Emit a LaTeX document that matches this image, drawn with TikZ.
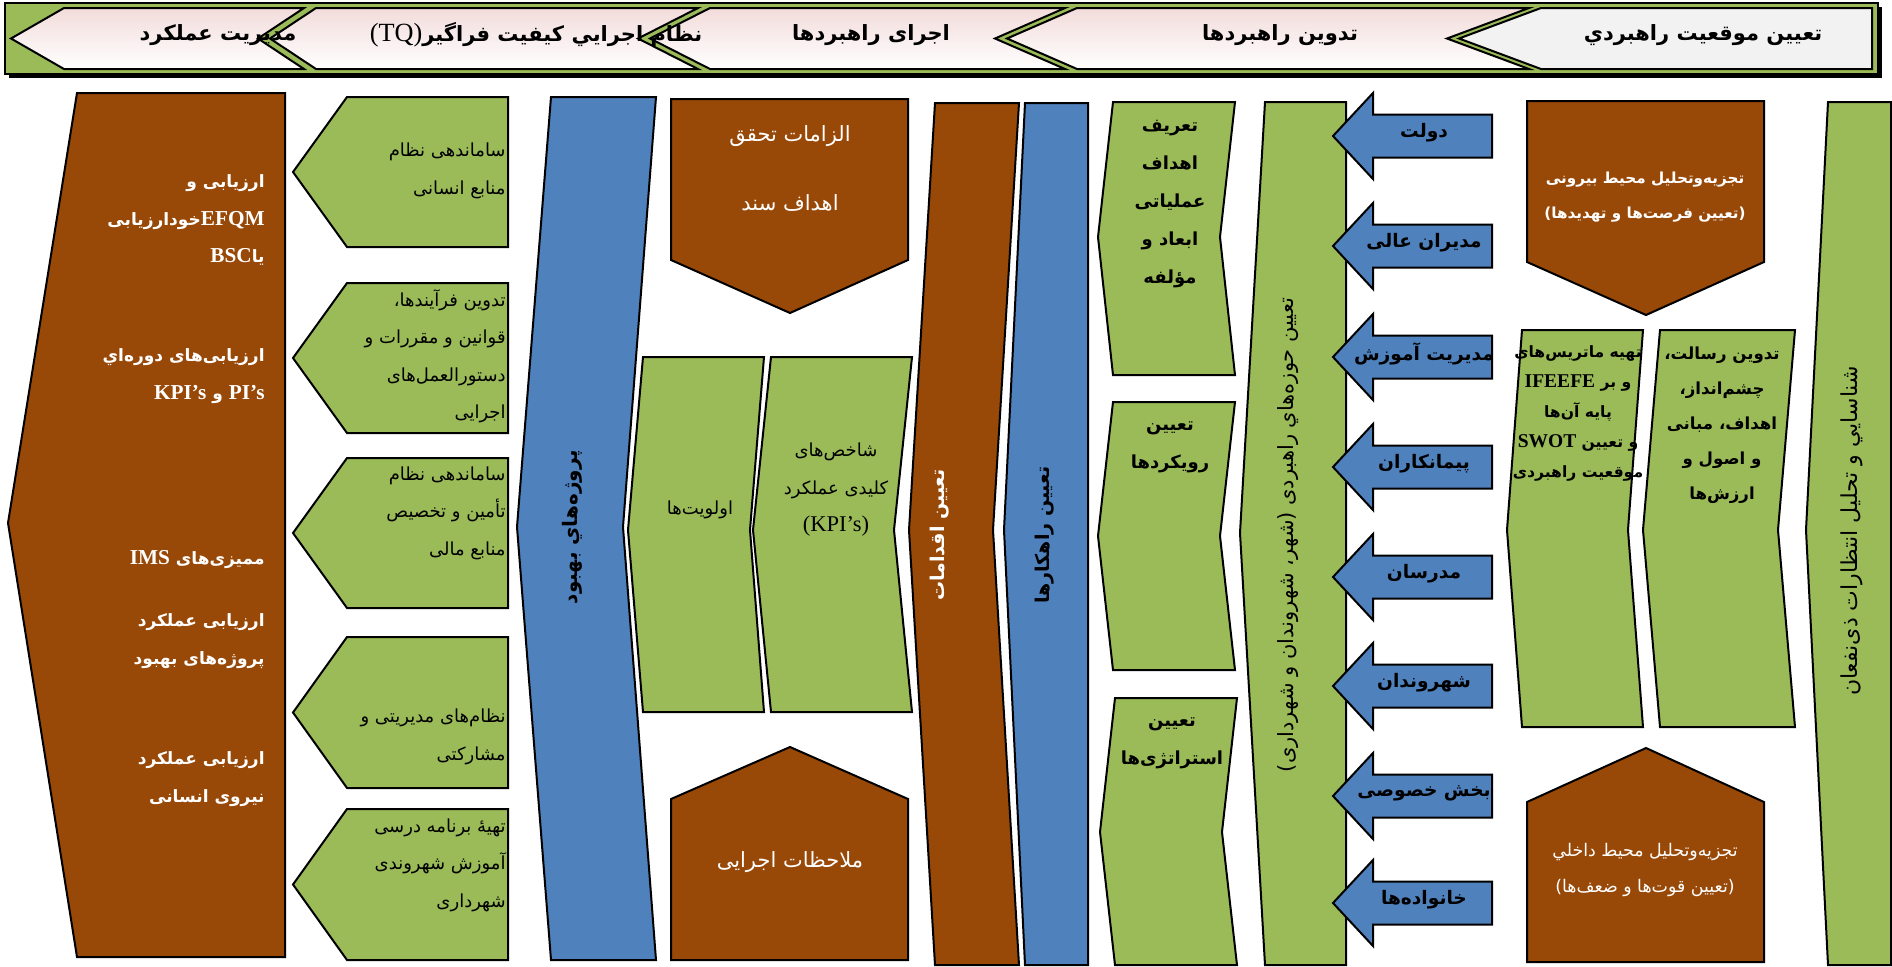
\documentclass[tikz,border=0pt]{standalone}
\usepackage{fontspec}
\setmainfont{Liberation Serif}
\newfontfamily\fafont[Script=Arabic]{DejaVu Sans}
\newfontfamily\enfont[Scale=1.25]{Liberation Serif}
\TeXXeTstate=1
\newcommand{\rl}[1]{\beginR#1\endR}
\newcommand{\zw}{^^^^200c}
\newcommand{\sz}[2]{\fontsize{#1}{#2}\selectfont}
\definecolor{brn}{HTML}{984807}
\definecolor{grn}{HTML}{9BBB59}
\definecolor{blu}{HTML}{4F81BD}
\definecolor{pnk}{HTML}{F2DCDB}
\definecolor{gry}{HTML}{F2F2F2}
\begin{document}
\begin{tikzpicture}[x=0.5pt,y=-0.5pt,line join=miter]
  \tikzstyle{frame}=[draw=black,line width=1pt]
  \tikzstyle{brownshape}=[frame,fill=brn]
  \tikzstyle{greenshape}=[frame,fill=grn]
  \tikzstyle{blueshape}=[frame,fill=blu]
  \tikzstyle{chevron}=[frame,top color=pnk,bottom color=white]
  \tikzstyle{headtext}=[inner sep=0pt,font=\fafont\bfseries\sz{10.5}{13}]
  \tikzstyle{whitetext}=[inner sep=0pt,text=white,font=\fafont\sz{9}{18.75}]
  \tikzstyle{blacktext}=[inner sep=0pt,text=black,font=\fafont\sz{9}{18.75}]
  \useasboundingbox (0,0) rectangle (1892,966);
  % header band
  \fill[black] (9,7) rectangle (1882,78);
  \draw[frame,fill=grn] (5,3) rectangle (1878,74);
  \draw[chevron] (64,8) -- (304,8) -- (258,38.5) -- (304,69) -- (64,69) -- (11,38.5) -- cycle;
  \draw[chevron] (316,8) -- (698,8) -- (638,38.5) -- (698,69) -- (316,69) -- (270,38.5) -- cycle;
  \draw[chevron] (710,8) -- (1065,8) -- (995,38.5) -- (1065,69) -- (710,69) -- (650,38.5) -- cycle;
  \draw[chevron] (1077,8) -- (1529,8) -- (1447,38.5) -- (1529,69) -- (1077,69) -- (1007,38.5) -- cycle;
  \draw[frame,fill=gry] (1541,8) -- (1872,8) -- (1872,69) -- (1541,69) -- (1459,38.5) -- cycle;
  \node[headtext] (h1) at (218,35) {\rl{مدیریت عملکرد}};
  \node[headtext] (h2) at (536,35) {{\enfont\mdseries(TQ)}\rl{نظام اجرايي کیفیت فراگیر}};
  \node[headtext] (h3) at (871,35) {\rl{اجرای راهبردها}};
  \node[headtext] (h4) at (1280,35) {\rl{تدوین راهبردها}};
  \node[headtext] (h5) at (1703,35) {\rl{تعيين موقعيت راهبردي}};
  % performance evaluation
  \draw[brownshape] (77,93) -- (285,93) -- (285,957) -- (77,957) -- (8,523) -- cycle;
  \tikzstyle{evaltext}=[whitetext,anchor=east,align=right,font=\fafont\bfseries\sz{8.5}{18.75}]
  \node[evaltext] (e1) at (265,220) {\rl{ارزیابی و}\\\rl{خودارزیابی}{\enfont EFQM}\\{\enfont BSC}\rl{یا}};
  \node[evaltext] (e2) at (265,376) {\rl{ارزیابی\zw های دوره\zw اي}\\{\enfont KPI’s} \rl{و} {\enfont PI’s}};
  \node[evaltext] (e3) at (265,560) {{\enfont IMS} \rl{ممیزی\zw های}};
  \node[evaltext] (e4) at (265,641) {\rl{ارزیابی عملکرد}\\\rl{پروژه\zw های بهبود}};
  \node[evaltext] (e5) at (265,779) {\rl{ارزیابی عملکرد}\\\rl{نیروی انسانی}};
  % TQ systems
  \foreach \t/\b in {97/247,283/433,458/608,637/788,809/960}
    \draw[greenshape] (347,\t) -- (508,\t) -- (508,\b) -- (347,\b) -- (293,{(\t+\b)/2}) -- cycle;
  \tikzstyle{tqtext}=[blacktext,anchor=east,align=right]
  \node[tqtext] (t1) at (506,171) {\rl{ساماندهی نظام}\\\rl{منابع انسانی}};
  \node[tqtext] (t2) at (506,356) {\rl{تدوین فرآیندها،}\\\rl{قوانین و مقررات و}\\\rl{دستورالعمل\zw های}\\\rl{اجرایی}};
  \node[tqtext] (t3) at (506,513) {\rl{ساماندهی نظام}\\\rl{تأمین و تخصیص}\\\rl{منابع مالی}};
  \node[tqtext] (t4) at (506,737) {\rl{نظام\zw های مدیریتی و}\\\rl{مشارکتی}};
  \node[tqtext] (t5) at (506,865) {\rl{تهیه^^^^0654 برنامه درسی}\\\rl{آموزش شهروندی}\\\rl{شهرداری}};
  % implementation
  \draw[blueshape] (551,97) -- (656,97) -- (623,527) -- (656,960) -- (551,960) -- (517,527) -- cycle;
  \node[blacktext,rotate=90,font=\fafont\bfseries\sz{10}{12}] (proj) at (572,527) {\rl{پروژه\zw هاي بهبود}};
  \draw[brownshape] (671,99) -- (908,99) -- (908,260) -- (790,313) -- (671,260) -- cycle;
  \node[whitetext,align=center,font=\fafont\sz{10.5}{34.5}] (req) at (790,168) {\rl{الزامات تحقق}\\\rl{اهداف سند}};
  \draw[greenshape] (643,357) -- (764,357) -- (750,530) -- (764,712) -- (643,712) -- (628,530) -- cycle;
  \draw[greenshape] (771,357) -- (912,357) -- (894,530) -- (912,712) -- (771,712) -- (753,530) -- cycle;
  \node[blacktext] (prio) at (700,510) {\rl{اولویت\zw ها}};
  \node[blacktext,align=center] (kpi) at (836,490) {\rl{شاخص\zw های}\\\rl{کلیدی عملکرد}\\{\enfont(KPI’s)}};
  \draw[brownshape] (671,960) -- (908,960) -- (908,799) -- (790,747) -- (671,799) -- cycle;
  \node[whitetext,font=\fafont\sz{10.5}{12}] (note) at (790,862) {\rl{ملاحظات اجرایی}};
  \draw[brownshape] (935,103) -- (1019,103) -- (993,530) -- (1019,965) -- (935,965) -- (909,530) -- cycle;
  \node[whitetext,rotate=90,font=\fafont\bfseries\sz{9.5}{11}] (act) at (940,535) {\rl{تعیین اقدامات}};
  \draw[blueshape] (1025,103) -- (1088,103) -- (1088,965) -- (1025,965) -- (1004,530) -- cycle;
  \node[blacktext,rotate=90,font=\fafont\bfseries\sz{9.5}{11}] (sol) at (1045,535) {\rl{تعیین راهکارها}};
  % strategy formulation
  \tikzstyle{boldtext}=[blacktext,align=center,font=\fafont\bfseries\sz{9}{19}]
  \draw[greenshape] (1113,102) -- (1235,102) -- (1220,237) -- (1235,375) -- (1113,375) -- (1098,237) -- cycle;
  \draw[greenshape] (1113,402) -- (1235,402) -- (1220,536) -- (1235,670) -- (1113,670) -- (1098,536) -- cycle;
  \draw[greenshape] (1115,698) -- (1237,698) -- (1222,832) -- (1237,965) -- (1115,965) -- (1100,832) -- cycle;
  \node[boldtext] (goal) at (1170,204) {\rl{تعریف}\\\rl{اهداف}\\\rl{عملیاتی}\\\rl{ابعاد و}\\\rl{مؤلفه}};
  \node[boldtext] (appr) at (1170,447) {\rl{تعیین}\\\rl{رویکردها}};
  \node[boldtext] (strat) at (1172,743) {\rl{تعیین}\\\rl{استراتژی\zw ها}};
  \draw[greenshape] (1265,102) -- (1346,102) -- (1346,965) -- (1265,965) -- (1240,533) -- cycle;
  \node[blacktext,rotate=90,font=\fafont\sz{10.5}{12}] (area) at (1288,535) {\rl{تعیین حوزه\zw هاي راهبردی (شهر، شهروندان و شهرداری)}};
  \foreach \y/\lbl in {136/دولت,246/مدیران عالی,357/مدیریت آموزش,467/پیمانکاران,577/مدرسان,686/شهروندان,796/بخش خصوصی,903/خانواده\zw ها}{
    \draw[blueshape] (1333,\y) -- (1373,\y-43) -- (1373,\y-21.5) -- (1492,\y-21.5)
      -- (1492,\y+21.5) -- (1373,\y+21.5) -- (1373,\y+43) -- cycle;
    \node[blacktext,font=\fafont\bfseries\sz{9.3}{12}] (s\y) at (1424,\y-3) {\rl{\lbl}};
  }
  % strategic position
  \draw[brownshape] (1527,101) -- (1764,101) -- (1764,262) -- (1646,315) -- (1527,262) -- cycle;
  \node[whitetext,align=center,font=\fafont\bfseries\sz{7.6}{17.5}] (ext) at (1645,197) {\rl{تجزیه\zw وتحلیل محیط بیرونی}\\\rl{(تعیین فرصت\zw ها و تهدیدها)}};
  \draw[brownshape] (1527,962) -- (1764,962) -- (1764,802) -- (1646,748) -- (1527,802) -- cycle;
  \node[whitetext,align=center,font=\fafont\sz{8.7}{17.5}] (int) at (1645,870) {\rl{تجزیه\zw وتحلیل محیط داخلي}\\\rl{(تعیین قوت\zw ها و ضعف\zw ها)}};
  \draw[greenshape] (1522,330) -- (1643,330) -- (1628,530) -- (1643,727) -- (1522,727) -- (1507,530) -- cycle;
  \draw[greenshape] (1660,330) -- (1795,330) -- (1778,530) -- (1795,727) -- (1660,727) -- (1643,530) -- cycle;
  \node[blacktext,align=center,font=\fafont\bfseries\sz{7.8}{15}] (swot) at (1578,413) {\rl{تهیه ماتریس\zw های}\\{\enfont IFEEFE} \rl{و بر}\\\rl{پایه آن\zw ها}\\{\enfont SWOT} \rl{و تعیین}\\\rl{موقعیت راهبردی}};
  \node[blacktext,align=center,font=\fafont\bfseries\sz{8.3}{17.5}] (miss) at (1722,425) {\rl{تدوین رسالت،}\\\rl{چشم\zw انداز،}\\\rl{اهداف، مبانی}\\\rl{و اصول و}\\\rl{ارزش\zw ها}};
  \draw[greenshape] (1828,102) -- (1891,102) -- (1891,965) -- (1828,965) -- (1806,530) -- cycle;
  \node[blacktext,rotate=90,font=\fafont\sz{11}{13}] (stake) at (1852,531) {\rl{شناسايي و تحلیل انتظارات ذی\zw نفعان}};
\end{tikzpicture}
\end{document}
